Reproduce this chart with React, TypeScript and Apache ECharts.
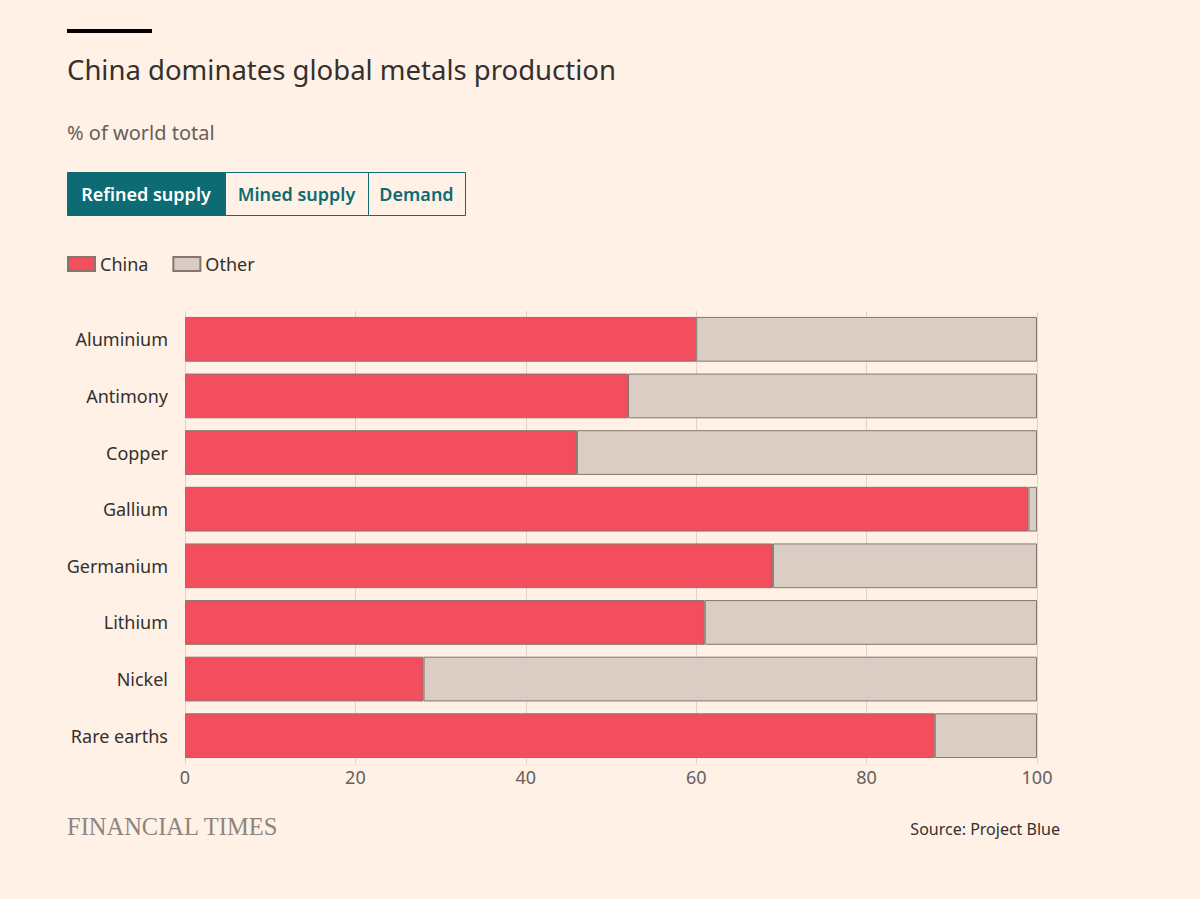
import React, { useEffect, useRef } from "react";
import * as echarts from "echarts";

const metals = ["Aluminium", "Antimony", "Copper", "Gallium", "Germanium", "Lithium", "Nickel", "Rare earths"];
const chinaShare = [60, 52, 46, 99, 69, 61, 28, 88];
const otherShare = [40, 48, 54, 1, 31, 39, 72, 12];
const seriesNames = ["China", "Other"];
const tabs = ["Refined supply", "Mined supply", "Demand"];

const BG = "#fff1e5";
const RED = "#f24e5e";
const GREY = "#d9cdc4";
const EDGE = "#857670";
const TEAL = "#0d6b73";
const FONT = "'Noto Sans', sans-serif";

export default function App() {
  const ref = useRef<HTMLDivElement>(null);
  useEffect(() => {
    if (!ref.current) return;
    const chart = echarts.init(ref.current, undefined, { renderer: "svg" });
    const tabX = [67, 225, 368, 465];
    const tabGraphics: any[] = [];
    tabs.forEach((t, i) => {
      const active = i === 0;
      tabGraphics.push({
        type: "rect",
        shape: { x: tabX[i] + 0.5, y: 172.5, width: tabX[i + 1] - tabX[i], height: 43 },
        style: { fill: active ? TEAL : BG, stroke: TEAL, lineWidth: 1 },
      });
      tabGraphics.push({
        type: "text",
        x: (tabX[i] + tabX[i + 1]) / 2,
        y: 194,
        style: {
          text: t,
          fill: active ? "#ffffff" : TEAL,
          font: `600 18px ${FONT}`,
          align: "center",
          verticalAlign: "middle",
        },
      });
    });
    chart.setOption({
      animation: false,
      backgroundColor: BG,
      textStyle: { fontFamily: FONT },
      graphic: [
        { type: "rect", shape: { x: 67, y: 29, width: 85, height: 4 }, style: { fill: "#000000" } },
        {
          type: "text", x: 67, y: 69,
          style: { text: "China dominates global metals production", fill: "#33302e", font: `400 27.5px ${FONT}`, verticalAlign: "middle" },
        },
        {
          type: "text", x: 67, y: 132,
          style: { text: "% of world total", fill: "#66605c", font: `400 20px ${FONT}`, verticalAlign: "middle" },
        },
        ...tabGraphics,
        {
          type: "text", x: 67, y: 826,
          style: { text: "FINANCIAL TIMES", fill: "#8c8580", font: `400 24.5px 'Liberation Serif', serif`, verticalAlign: "middle" },
        },
        {
          type: "text", x: 1060, y: 829,
          style: { text: "Source: Project Blue", fill: "#33302e", font: `400 16px ${FONT}`, align: "right", verticalAlign: "middle" },
        },
      ],
      legend: {
        left: 67,
        top: 255,
        padding: 0,
        itemWidth: 27,
        itemHeight: 14,
        itemGap: 24,
        icon: "rect",
        data: seriesNames,
        textStyle: { fontSize: 18, color: "#33302e", fontFamily: FONT, padding: [0, 0, 0, 0] },
      },
      grid: { left: 185, right: 163, top: 311, bottom: 135, containLabel: false },
      xAxis: {
        type: "value",
        min: 0,
        max: 100,
        interval: 20,
        axisLine: { show: false },
        axisTick: { show: false },
        splitLine: { show: true, lineStyle: { color: "#ddd3ca", width: 1 } },
        axisLabel: { fontSize: 18, color: "#66605c", margin: 4, fontFamily: FONT },
      },
      yAxis: {
        type: "category",
        data: metals,
        inverse: true,
        axisLine: { show: false },
        axisTick: { show: false },
        axisLabel: { fontSize: 18, color: "#33302e", margin: 17, fontFamily: FONT },
      },
      series: [
        {
          name: seriesNames[0], type: "bar", stack: "s", data: chinaShare, barCategoryGap: "21%",
          itemStyle: { color: RED, borderColor: EDGE, borderWidth: 1 },
        },
        {
          name: seriesNames[1], type: "bar", stack: "s", data: otherShare, barCategoryGap: "21%",
          itemStyle: { color: GREY, borderColor: EDGE, borderWidth: 1 },
        },
      ],
    });
    return () => chart.dispose();
  }, []);
  return (
    <div style={{ position: "absolute", left: 0, top: 0, width: 1200, height: 899, background: BG }}>
      <div ref={ref} style={{ width: 1200, height: 899 }} />
    </div>
  );
}
